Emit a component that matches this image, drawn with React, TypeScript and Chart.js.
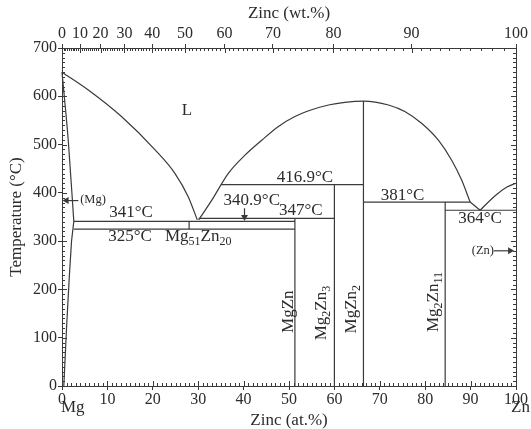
import React, { useEffect, useRef } from 'react';
import { Chart, registerables } from 'chart.js';
Chart.register(...registerables);

const FONT = "'Liberation Serif', 'DejaVu Serif', serif";
const INK = '#2b2b2b';
const LINE = '#3a3a3a';

// axis ticks
const atTicks = [0, 10, 20, 30, 40, 50, 60, 70, 80, 90, 100];
const wtTicks = [0, 10, 20, 30, 40, 50, 60, 70, 80, 90, 100];
const tempTicks = [0, 100, 200, 300, 400, 500, 600, 700];

// phase boundaries: [Zn at.%, temperature °C]
const liquidusMgSide = [[0, 650], [5.8, 613], [13.1, 558], [20.5, 489], [24.9, 440], [27.8, 392], [29.8, 344]];
const solidusMg = [[0, 650], [1.4, 506], [2.6, 341]];
const solvusMg = [[2.6, 341], [2.1, 300], [1.6, 225], [1.0, 120], [0.4, 0]];
const liquidusMgZn2 = [[30.1, 344], [33.0, 385], [36.6, 440], [40.3, 478], [44.0, 509], [47.6, 537], [51.3, 558], [55.0, 572], [58.7, 582], [62.3, 587.5], [66.4, 590], [71.9, 582], [75.6, 568], [79.2, 544], [82.9, 509], [85.8, 468], [88.0, 427], [89.9, 381]];
const liquidusToEutectic = [[89.9, 381], [92.1, 364]];
const liquidusZnSide = [[92.1, 364], [95.4, 394], [98.0, 412], [100, 420]];
const iso341 = [[2.6, 341], [51.3, 341]];
const iso325 = [[2.6, 325], [51.3, 325]];
const iso347 = [[30.1, 347], [60, 347]];
const iso417 = [[35.0, 416.9], [66.4, 416.9]];
const iso381 = [[66.4, 381], [89.9, 381]];
const iso364 = [[84.4, 364], [100, 364]];
const mg51zn20 = [[28.0, 325], [28.0, 341]];
const mgZn = [[51.3, 0], [51.3, 347]];
const mg2zn3 = [[60, 0], [60, 416.9]];
const mgZn2 = [[66.4, 0], [66.4, 590]];
const mg2zn11 = [[84.4, 0], [84.4, 381]];
const arrowMg = [[3.6, 384], [1.0, 384]];
const arrowZn = [[95.1, 280], [98.7, 280]];
const arrow3409 = [[40.2, 368], [40.2, 350]];

// text labels anchored in data coordinates
const labelTexts = [
  { parts: [['L', 0]], x: 27.5, y: 571 },
  { parts: [['341°C', 0]], x: 15.2, y: 360 },
  { parts: [['325°C', 0]], x: 15.0, y: 309 },
  { parts: [['Mg', 0], ['51', 1], ['Zn', 0], ['20', 1]], x: 30.0, y: 309 },
  { parts: [['416.9°C', 0]], x: 53.5, y: 432 },
  { parts: [['340.9°C', 0]], x: 41.8, y: 385 },
  { parts: [['347°C', 0]], x: 52.6, y: 363 },
  { parts: [['381°C', 0]], x: 75.0, y: 395 },
  { parts: [['364°C', 0]], x: 92.1, y: 347 },
  { parts: [['(Mg)', 0]], x: 4.0, y: 385, small: true, left: true },
  { parts: [['(Zn)', 0]], x: 92.7, y: 280, small: true },
  { parts: [['MgZn', 0]], x: 49.8, y: 154, rot: true },
  { parts: [['Mg', 0], ['2', 1], ['Zn', 0], ['3', 1]], x: 57.2, y: 151, rot: true },
  { parts: [['MgZn', 0], ['2', 1]], x: 63.8, y: 159, rot: true },
  { parts: [['Mg', 0], ['2', 1], ['Zn', 0], ['11', 1]], x: 81.9, y: 174, rot: true },
];

const M_ZN = 65.38, M_MG = 24.305;
const wtToAt = (w: number) => { const a = w / M_ZN, b = (100 - w) / M_MG; return (100 * a) / (a + b); };

function drawRich(ctx: CanvasRenderingContext2D, parts: any[], x: number, y: number, size: number, align: string, rot: boolean) {
  const subSize = Math.round(size * 0.68);
  const widths = parts.map(([t, sub]) => { ctx.font = `${sub ? subSize : size}px ${FONT}`; return ctx.measureText(t).width; });
  const total = widths.reduce((a: number, b: number) => a + b, 0);
  ctx.save();
  ctx.translate(x, y);
  if (rot) ctx.rotate(-Math.PI / 2);
  let cx = align === 'left' ? 0 : -total / 2;
  ctx.textBaseline = 'middle';
  ctx.textAlign = 'left';
  ctx.fillStyle = INK;
  parts.forEach(([t, sub], i) => {
    ctx.font = `${sub ? subSize : size}px ${FONT}`;
    ctx.fillText(t, cx, sub ? size * 0.32 : 0);
    cx += widths[i];
  });
  ctx.restore();
}

const decorPlugin = {
  id: 'decor',
  afterDraw(chart: any) {
    const { ctx, chartArea, scales } = chart;
    const { left, right, top, bottom } = chartArea;
    ctx.save();
    ctx.strokeStyle = LINE;
    ctx.lineWidth = 1;
    const seg = (x1: number, y1: number, x2: number, y2: number) => { ctx.beginPath(); ctx.moveTo(x1, y1); ctx.lineTo(x2, y2); ctx.stroke(); };
    for (let v = 0; v <= 100; v += 1) {
      const px = Math.round(scales.x.getPixelForValue(v)) + 0.5;
      seg(px, bottom, px, bottom - (v % 10 === 0 ? 5 : 3));
    }
    for (let w = 0; w <= 100; w += 1) {
      const px = Math.round(scales.x.getPixelForValue(wtToAt(w))) + 0.5;
      seg(px, top, px, top + (w % 10 === 0 ? 5 : 3));
    }
    for (let t = 0; t <= 700; t += 10) {
      const py = Math.round(scales.y.getPixelForValue(t)) + 0.5;
      const len = t % 100 === 0 ? 5 : 3;
      seg(left, py, left + len, py);
      seg(right, py, right - len, py);
    }
    ctx.restore();
    labelTexts.forEach((l: any) => {
      const px = scales.x.getPixelForValue(l.x);
      const py = scales.y.getPixelForValue(l.y);
      drawRich(ctx, l.parts, px, py, l.small ? 12.5 : 17, l.left ? 'left' : 'center', !!l.rot);
    });
    drawRich(ctx, [['Mg', 0]], scales.x.getPixelForValue(0) - 1, bottom + 22, 17, 'left', false);
    drawRich(ctx, [['Zn', 0]], scales.x.getPixelForValue(100) - 5, bottom + 22, 17, 'left', false);
  },
};

const toPts = (arr: number[][]) => arr.map(([x, y]) => ({ x, y }));

export default function App() {
  const ref = useRef<HTMLCanvasElement>(null);
  useEffect(() => {
    if (!ref.current) return;
    const line = (arr: number[][], smooth = false) => ({
      data: toPts(arr), showLine: true, borderColor: LINE, borderWidth: 1.2, pointRadius: 0,
      cubicInterpolationMode: smooth ? 'monotone' : 'default', tension: smooth ? 0.4 : 0, clip: false,
    });
    const arrow = (arr: number[][], rot: number) => ({
      data: toPts(arr), showLine: true, borderColor: LINE, borderWidth: 1.2,
      pointRadius: [0, 4], pointStyle: 'triangle', rotation: rot,
      pointBackgroundColor: LINE, pointBorderColor: LINE, pointBorderWidth: 0, clip: false,
    });
    const tickFont = { family: FONT, size: 16 };
    const titleFont = { family: FONT, size: 17, lineHeight: 1 };
    const chart = new Chart(ref.current, {
      type: 'scatter',
      data: {
        datasets: [
          line(liquidusMgSide, true), line(solidusMg, true), line(solvusMg), line(liquidusMgZn2, true),
          line(liquidusToEutectic), line(liquidusZnSide, true),
          line(iso341), line(iso325), line(iso347), line(iso417), line(iso381), line(iso364),
          line(mg51zn20), line(mgZn), line(mg2zn3), line(mgZn2), line(mg2zn11),
          arrow(arrowMg, 270), arrow(arrowZn, 90), arrow(arrow3409, 180),
        ] as any,
      },
      options: {
        animation: false,
        responsive: false,
        layout: { padding: 0 },
        plugins: { legend: { display: false }, tooltip: { enabled: false } },
        scales: {
          x: {
            type: 'linear', position: 'bottom', min: 0, max: 100,
            afterBuildTicks: (s: any) => { s.ticks = atTicks.map((v) => ({ value: v })); },
            ticks: { autoSkip: false, maxRotation: 0, font: tickFont, color: INK, padding: 0 },
            grid: { drawOnChartArea: false, drawTicks: true, tickLength: 4, color: LINE },
            border: { display: true, color: LINE, width: 1 },
            title: { display: true, text: 'Zinc (at.%)', font: titleFont, color: INK, padding: 0 },
            afterFit: (s: any) => { s.height = 43; },
          },
          x2: {
            type: 'linear', axis: 'x', position: 'top', min: 0, max: 100,
            afterBuildTicks: (s: any) => { s.ticks = wtTicks.map((w) => ({ value: wtToAt(w) })); },
            ticks: { autoSkip: false, maxRotation: 0, font: tickFont, color: INK, padding: 1, callback: (_v: any, i: number) => String(wtTicks[i]) },
            grid: { drawOnChartArea: false, drawTicks: true, tickLength: 4, color: LINE },
            border: { display: true, color: LINE, width: 1 },
            title: { display: true, text: 'Zinc (wt.%)', font: titleFont, color: INK, padding: { top: 5, bottom: 0 } },
            afterFit: (s: any) => { s.height = 48; },
          },
          y: {
            type: 'linear', position: 'left', min: 0, max: 700,
            afterBuildTicks: (s: any) => { s.ticks = tempTicks.map((v) => ({ value: v })); },
            ticks: { font: tickFont, color: INK, padding: 1 },
            grid: { drawOnChartArea: false, drawTicks: true, tickLength: 4, color: LINE },
            border: { display: true, color: LINE, width: 1 },
            title: { display: true, text: 'Temperature (°C)', font: titleFont, color: INK, padding: { top: 8, bottom: 0 } },
            afterFit: (s: any) => { s.width = 62; },
          },
          y2: {
            type: 'linear', axis: 'y', position: 'right', min: 0, max: 700,
            ticks: { display: false },
            grid: { display: false },
            border: { display: true, color: LINE, width: 1 },
            afterFit: (s: any) => { s.width = 15; },
          },
        },
      } as any,
      plugins: [decorPlugin],
    });
    return () => chart.destroy();
  }, []);
  return (
    <div style={{ position: 'absolute', left: 0, top: 0, width: 531, height: 429, background: '#fff' }}>
      <canvas ref={ref} width={531} height={429} style={{ width: 531, height: 429, display: 'block' }} />
    </div>
  );
}
